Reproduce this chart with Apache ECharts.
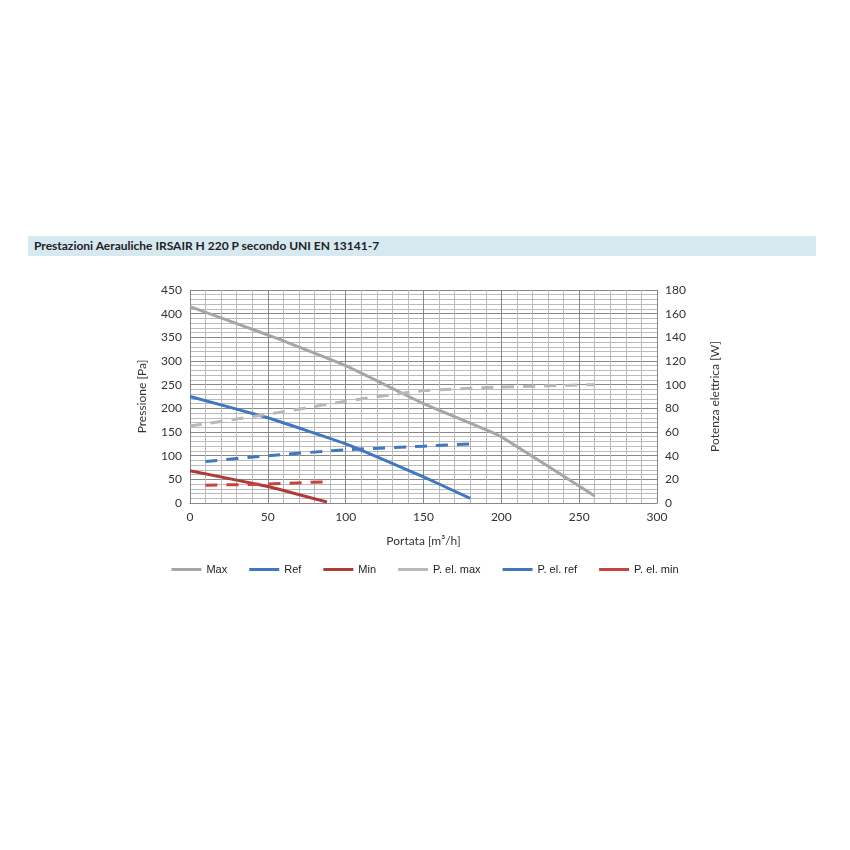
<!DOCTYPE html>
<html><head><meta charset="utf-8">
<script src="https://cdn.jsdelivr.net/npm/echarts@6/dist/echarts.min.js"></script>
<style>
body{margin:0;background:#fff;font-family:Lato,"Noto Sans",sans-serif;}
#band{position:absolute;left:28px;top:236px;width:788px;height:20px;background:#d6e9f1;font-weight:bold;font-size:12px;line-height:20px;padding-left:6px;box-sizing:border-box;color:#222;}
#c{position:absolute;left:0;top:0;width:850px;height:850px;}
</style></head><body>
<div id="c"></div>
<div id="band">Prestazioni Aerauliche IRSAIR H 220 P secondo UNI EN 13141-7</div>
<script>
// curve di pressione [m3/h, Pa]
let maxCurve = [[0,415],[50,355],[100,290],[150,210],[190,155],[200,140],[260,15]];
let refCurve = [[0,225],[50,180],[100,125],[150,55],[180,10]];
let minCurve = [[0,68],[50,35],[88,2]];
// potenza elettrica [m3/h, W]
let pelMax = [[0,65],[50,75],[100,86],[150,95],[200,98],[260,100]];
let pelRef = [[10,35],[50,40],[100,45],[150,48],[180,50]];
let pelMin = [[10,15],[50,16],[88,18]];

let grigio = '#a6a6a6', blu = '#3e78c0', rosso = '#b03a35';
let chart = echarts.init(document.getElementById('c'));
let txt = {color:'#333', fontSize:12, fontFamily:'Lato'};
function linea(name, data, color, dashed, yIdx) {
  return {name: name, type: 'line', data: data, yAxisIndex: yIdx, showSymbol: false, smooth: 0.1,
    lineStyle: {color: color, width: 3, type: dashed ? [12, 9] : 'solid'}, itemStyle: {color: color}};
}
chart.setOption({
  animation: false,
  grid: {left: 190, right: 193, top: 290, height: 213},
  legend: {bottom: 270, left: 'center', itemWidth: 30, itemHeight: 3, itemGap: 22, icon: 'rect', textStyle: {fontSize: 11, color: '#222'},
    data: ['Max', 'Ref', 'Min', 'P. el. max', 'P. el. ref', 'P. el. min']},
  xAxis: {type: 'value', min: 0, max: 300, interval: 50, name: 'Portata [m³/h]', nameLocation: 'middle', nameGap: 32, nameTextStyle: txt,
    axisLabel: txt, axisLine: {lineStyle: {color: '#888'}}, axisTick: {show: false},
    minorTick: {show: false, splitNumber: 5}, splitLine: {lineStyle: {color: '#888'}},
    minorSplitLine: {show: true, lineStyle: {color: '#bbb'}}},
  yAxis: [
    {type: 'value', min: 0, max: 450, interval: 50, name: 'Pressione [Pa]', nameLocation: 'middle', nameGap: 42, nameTextStyle: txt,
      axisLabel: txt, axisLine: {show: true, lineStyle: {color: '#888'}}, axisTick: {show: false},
      minorTick: {show: false, splitNumber: 5}, splitLine: {lineStyle: {color: '#888'}},
      minorSplitLine: {show: true, lineStyle: {color: '#bbb'}}},
    {type: 'value', min: 0, max: 180, interval: 20, name: 'Potenza elettrica [W]', nameLocation: 'middle', nameGap: 52, nameRotate: 90, nameTextStyle: txt,
      axisLabel: txt, axisLine: {show: true, lineStyle: {color: '#888'}}, axisTick: {show: false}, splitLine: {show: false}}
  ],
  series: [
    linea('Max', maxCurve, grigio, false, 0),
    linea('Ref', refCurve, blu, false, 0),
    linea('Min', minCurve, rosso, false, 0),
    linea('P. el. max', pelMax, '#b8b8b8', true, 1),
    linea('P. el. ref', pelRef, blu, true, 1),
    linea('P. el. min', pelMin, '#c8433d', true, 1)
  ]
});
</script>
</body></html>
